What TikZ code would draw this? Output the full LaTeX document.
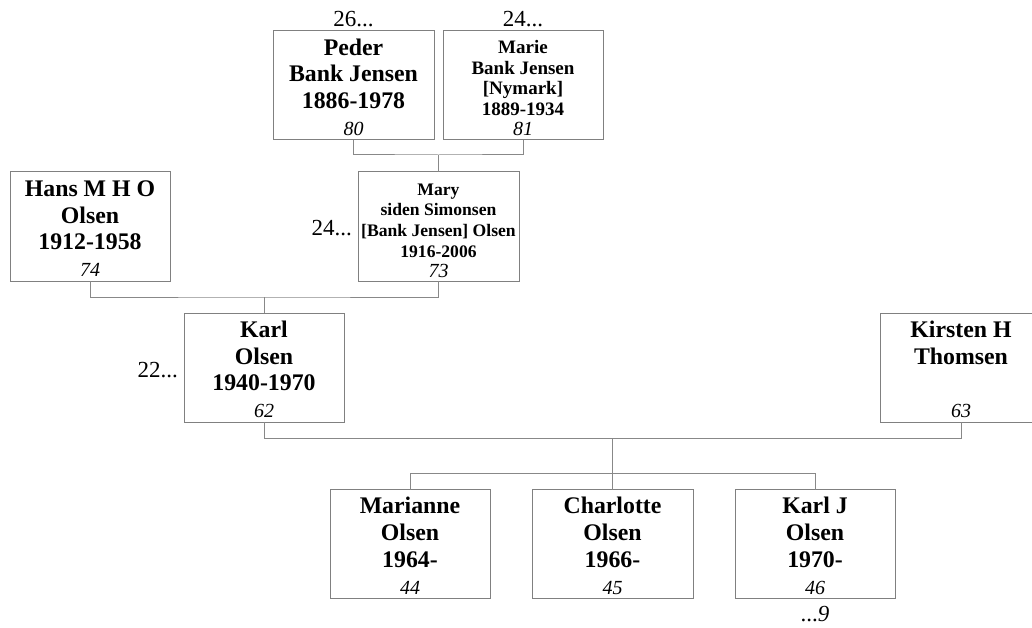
\documentclass[tikz,border=0pt]{standalone}
\usepackage{fontspec}
\setmainfont{Liberation Serif}
\definecolor{linegray}{RGB}{136,136,136}
\definecolor{boxgray}{RGB}{128,128,128}
\newcommand{\hbig}{\rule{0pt}{20pt}}
\newcommand{\hsmall}{\rule{0pt}{17pt}}
\begin{document}
\begin{tikzpicture}[x=1pt,y=-1pt,
  box/.style={draw=boxgray, line width=1pt, minimum width=161pt, minimum height=109pt, inner sep=0pt, outer sep=0pt},
  bigtext/.style={font=\fontsize{23.8}{26.8}\selectfont\bfseries, align=center, inner sep=0pt, anchor=north},
  smalltext/.style={font=\fontsize{19}{20.6}\selectfont\bfseries, align=center, inner sep=0pt, anchor=north},
  marytext/.style={font=\fontsize{17.6}{20.6}\selectfont\bfseries, align=center, inner sep=0pt, anchor=north},
  num/.style={font=\fontsize{20}{22}\selectfont\itshape, inner sep=0pt, anchor=base},
  side/.style={font=\fontsize{23}{26}\selectfont, inner sep=0pt},
  conn/.style={draw=linegray, line width=1pt}]
\useasboundingbox (0,0) rectangle (1032,628);

% boxes
\node[box] (peder) at (353.5,85.5) {};
\node[box, minimum width=160pt] (marie) at (523,85.5) {};
\node[box, minimum width=160pt] (hans) at (90,226.5) {};
\node[box] (mary) at (438.5,226.5) {};
\node[box, minimum width=160pt] (karl) at (264,367.5) {};
\node[box] (kirsten) at (961,367.5) {};
\node[box, minimum width=160pt] (marianne) at (410,544) {};
\node[box] (charlotte) at (612.5,544) {};
\node[box, minimum width=160pt] (karlj) at (815,544) {};

% names
\node[bigtext] (peder-t) at ([shift={(0,4)}]peder.north) {\hbig Peder\\Bank Jensen\\1886-1978};
\node[smalltext] (marie-t) at ([shift={(0,5.5)}]marie.north) {\hsmall Marie\\Bank Jensen\\{[Nymark]}\\1889-1934};
\node[bigtext] (hans-t) at ([shift={(0,4)}]hans.north) {\hbig Hans M H O\\Olsen\\1912-1958};
\node[marytext] (mary-t) at ([shift={(0,6)}]mary.north) {\hsmall Mary\\siden Simonsen\\{[Bank Jensen]} Olsen\\1916-2006};
\node[bigtext] (karl-t) at ([shift={(0,4)}]karl.north) {\hbig Karl\\Olsen\\1940-1970};
\node[bigtext] (kirsten-t) at ([shift={(0,4)}]kirsten.north) {\hbig Kirsten H\\Thomsen};
\node[bigtext] (marianne-t) at ([shift={(0,4)}]marianne.north) {\hbig Marianne\\Olsen\\1964-};
\node[bigtext] (charlotte-t) at ([shift={(0,4)}]charlotte.north) {\hbig Charlotte\\Olsen\\1966-};
\node[bigtext] (karlj-t) at ([shift={(0,4)}]karlj.north) {\hbig Karl J\\Olsen\\1970-};

% numbers
\node[num] (peder-n) at ([shift={(0,104.7)}]peder.north) {80};
\node[num] (marie-n) at ([shift={(0,105)}]marie.north) {81};
\node[num] (hans-n) at ([shift={(0,104.7)}]hans.north) {74};
\node[num] (mary-n) at ([shift={(0,105)}]mary.north) {73};
\node[num] (karl-n) at ([shift={(0,104.7)}]karl.north) {62};
\node[num] (kirsten-n) at ([shift={(0,104.7)}]kirsten.north) {63};
\node[num] (marianne-n) at ([shift={(0,104.7)}]marianne.north) {44};
\node[num] (charlotte-n) at ([shift={(0,104.7)}]charlotte.north) {45};
\node[num] (karlj-n) at ([shift={(0,104.7)}]karlj.north) {46};

% side labels
\node[side, anchor=base] (peder-up) at ([shift={(0,-4)}]peder.north) {26...};
\node[side, anchor=base] (marie-up) at ([shift={(0,-4)}]marie.north) {24...};
\node[side, anchor=base east] (mary-l) at ([shift={(-6,9.5)}]mary.west) {24...};
\node[side, anchor=base east] (karl-l) at ([shift={(-6,9.5)}]karl.west) {22...};
\node[side, anchor=base] (karlj-d) at ([shift={(0,23)}]karlj.south) {...\textit{9}};

% connectors
\path (mary.north) ++(0,-17) coordinate (j1);
\draw[conn] (peder.south) |- (j1) -| (marie.south);
\draw[conn] (j1) -- (mary.north);

\path (karl.north) ++(0,-16) coordinate (j2);
\draw[conn] (hans.south) |- (j2) -| (mary.south);
\draw[conn] (j2) -- (karl.north);

\path (charlotte.north) ++(0,-51) coordinate (j3);
\path (charlotte.north) ++(0,-16) coordinate (j4);
\draw[conn] (karl.south) |- (j3) -| (kirsten.south);
\draw[conn] (j3) -- (charlotte.north);
\draw[conn] (marianne.north) |- (j4) -| (karlj.north);
\end{tikzpicture}
\end{document}
